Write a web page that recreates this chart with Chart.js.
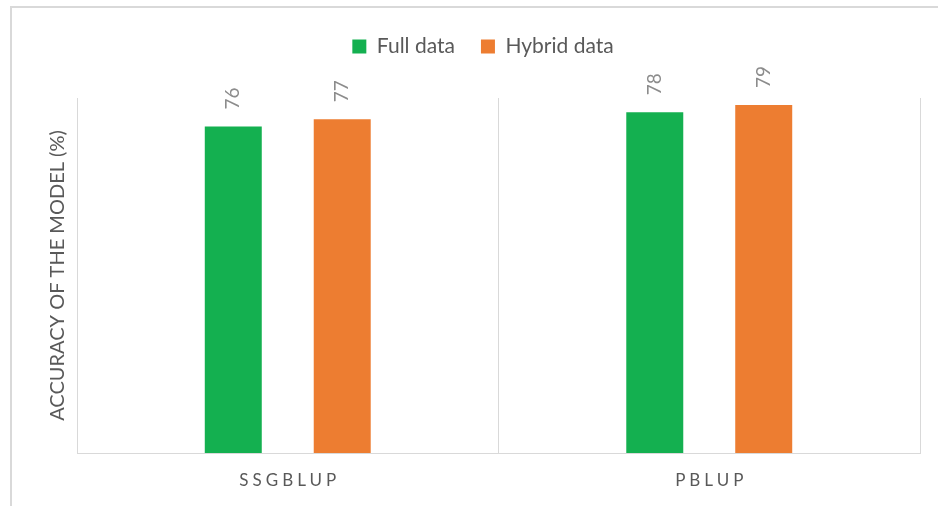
<!DOCTYPE html>
<html>
<head>
<meta charset="utf-8">
<script src="https://cdn.jsdelivr.net/npm/chart.js@4.4.1/dist/chart.umd.min.js"></script>
<style>
  html, body { margin: 0; padding: 0; background: #fff; overflow: hidden; }
  #marco { position: absolute; left: 10px; top: 6px; width: 1000px; height: 600px; border: 2px solid #d9d9d9; }
  #grafico { position: absolute; left: 0; top: 0; }
</style>
</head>
<body>
<div id="marco"></div>
<canvas id="grafico" width="938" height="506"></canvas>
<script>
// datos del grafico
const modelos = ["SSGBLUP", "PBLUP"];
const series = ["Full data", "Hybrid data"];
const valoresFull = [76, 78];
const valoresHybrid = [77, 79];
const colores = ["#14b050", "#ed7d31"];
const tituloY = "ACCURACY OF THE MODEL (%)";

const fuente = "Lato, 'Open Sans', sans-serif";

// etiquetas de valor giradas encima de cada barra
const etiquetasBarras = {
  id: "etiquetasBarras",
  afterDatasetsDraw(chart) {
    const ctx = chart.ctx;
    ctx.save();
    ctx.font = "19px " + fuente;
    ctx.fillStyle = "#8c8c8c";
    ctx.textAlign = "left";
    ctx.textBaseline = "middle";
    chart.data.datasets.forEach((ds, i) => {
      chart.getDatasetMeta(i).data.forEach((barra, j) => {
        ctx.save();
        ctx.translate(barra.x, barra.y - 17);
        ctx.rotate(-Math.PI / 2);
        ctx.fillText(String(ds.data[j]), 0, 0);
        ctx.restore();
      });
    });
    ctx.restore();
  }
};

// etiquetas del eje x con espaciado entre letras
const etiquetasEjeX = {
  id: "etiquetasEjeX",
  afterDraw(chart) {
    const ctx = chart.ctx;
    const escala = chart.scales.x;
    ctx.save();
    ctx.font = "17px " + fuente;
    ctx.fillStyle = "#595959";
    ctx.textAlign = "center";
    ctx.textBaseline = "middle";
    ctx.letterSpacing = "4px";
    modelos.forEach((m, i) => {
      ctx.fillText(m, escala.getPixelForValue(i) + 2, chart.chartArea.bottom + 28);
    });
    ctx.restore();
  }
};

// espacio extra debajo de la leyenda
const margenLeyenda = {
  id: "margenLeyenda",
  beforeInit(chart) {
    const fitOriginal = chart.legend.fit;
    chart.legend.fit = function () {
      fitOriginal.bind(chart.legend)();
      this.height += 31;
    };
  }
};

new Chart(document.getElementById("grafico").getContext("2d"), {
  type: "bar",
  data: {
    labels: modelos,
    datasets: [
      { label: series[0], data: valoresFull, backgroundColor: colores[0] },
      { label: series[1], data: valoresHybrid, backgroundColor: colores[1] }
    ]
  },
  options: {
    responsive: false,
    animation: false,
    categoryPercentage: 0.517,
    barPercentage: 0.523,
    layout: { padding: { top: 10, left: 46, right: 18, bottom: 0 } },
    plugins: {
      tooltip: { enabled: false },
      legend: {
        position: "top",
        labels: {
          boxWidth: 14,
          boxHeight: 14,
          padding: 26,
          color: "#595959",
          font: { family: fuente, size: 21 }
        }
      }
    },
    scales: {
      x: {
        offset: true,
        grid: { offset: true, color: "#d9d9d9", lineWidth: 1, drawTicks: false },
        border: { display: true, color: "#d9d9d9", width: 1 },
        ticks: { color: "transparent", font: { family: fuente, size: 17 } },
        afterFit(s) { s.height = 53; }
      },
      y: {
        min: 30,
        max: 80,
        grid: { display: false },
        border: { display: false },
        ticks: { display: false },
        title: {
          display: true,
          text: tituloY,
          color: "#595959",
          font: { family: fuente, size: 20 },
          padding: { top: 0, bottom: 0 }
        },
        afterFit(s) { s.width = 31; }
      }
    }
  },
  plugins: [etiquetasBarras, etiquetasEjeX, margenLeyenda]
});
</script>
</body>
</html>
